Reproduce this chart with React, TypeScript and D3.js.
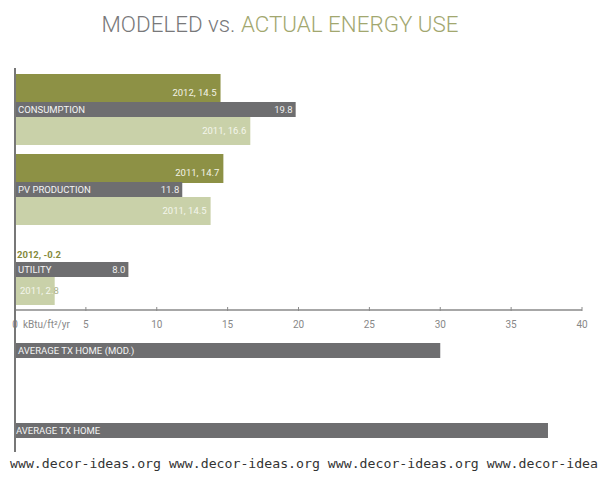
import React, { useEffect } from "react";
import * as d3 from "d3";

const categories = ["CONSUMPTION", "PV PRODUCTION", "UTILITY"];
const darkValues = [14.5, 14.7, -0.2];
const darkLabels = ["2012, 14.5", "2011, 14.7", "2012, -0.2"];
const grayValues = [19.8, 11.8, 8.0];
const grayLabels = ["19.8", "11.8", "8.0"];
const lightValues = [16.6, 13.8, 2.8];
const lightLabels = ["2011, 16.6", "2011, 14.5", "2011, 2.8"];
const avgLabels = ["AVERAGE TX HOME (MOD.)", "AVERAGE TX HOME"];
const avgValues = [30.0, 37.6];
const tickValues = [0, 5, 10, 15, 20, 25, 30, 35, 40];
const unitLabel = "kBtu/ft²/yr";
const watermark = "www.decor-ideas.org www.decor-ideas.org www.decor-ideas.org www.decor-idea";

const DARK = "#8d9145";
const LIGHT = "#c9d1a9";
const GRAY = "#6e6e70";
const FONT = "Roboto, 'Open Sans', sans-serif";

export default function App() {
  useEffect(() => {
    document.body.style.margin = "0";
  }, []);

  const x = d3.scaleLinear().domain([0, 40]).range([15, 582]);
  const band = d3.scaleBand<string>().domain(categories).range([74, 314]);
  const avgY = d3.scaleBand<string>().domain(avgLabels).range([343, 503]);

  return (
    <svg width={600} height={483} style={{ position: "absolute", left: 0, top: 0, background: "#fff" }}>
      <text x={280} y={32} textAnchor="middle" fontFamily={FONT} fontSize={22} fontWeight={300} textLength={357} lengthAdjust="spacingAndGlyphs">
        <tspan fill="#78787a">MODELED vs. </tspan>
        <tspan fill="#a2a76f">ACTUAL ENERGY USE</tspan>
      </text>

      {categories.map((c, i) => {
        const T = band(c) as number;
        const dv = darkValues[i];
        return (
          <g key={c}>
            {dv > 0 && <rect x={x(0)} y={T} width={x(dv) - x(0)} height={29} fill={DARK} />}
            <rect x={x(0)} y={T + 43} width={x(lightValues[i]) - x(0)} height={28} fill={LIGHT} />
            <rect x={x(0)} y={T + 28} width={x(grayValues[i]) - x(0)} height={15} fill={GRAY} />
            {dv > 0 ? (
              <text x={x(dv) - 4} y={T + 22} textAnchor="end" fontFamily={FONT} fontSize={9.5} fill="#f3f3e6">
                {darkLabels[i]}
              </text>
            ) : (
              <text x={17} y={T + 24} fontFamily={FONT} fontSize={9.5} fontWeight="bold" fill="#858a3c">
                {darkLabels[i]}
              </text>
            )}
            <text x={18} y={T + 39} fontFamily={FONT} fontSize={9.5} fill="#f4f4f4">{c}</text>
            <text x={x(grayValues[i]) - 3} y={T + 39} textAnchor="end" fontFamily={FONT} fontSize={9.5} fill="#eeeeee">
              {grayLabels[i]}
            </text>
            {lightValues[i] > 8 ? (
              <text x={x(lightValues[i]) - 4} y={T + 60} textAnchor="end" fontFamily={FONT} fontSize={9.5} fill="#f4f6ec">
                {lightLabels[i]}
              </text>
            ) : (
              <text x={20} y={T + 60} fontFamily={FONT} fontSize={9.5} fill="#f4f6ec">
                <tspan>{lightLabels[i].slice(0, -1)}</tspan>
                <tspan fill="#a9b08a">{lightLabels[i].slice(-1)}</tspan>
              </text>
            )}
          </g>
        );
      })}

      <line x1={x(0)} x2={x(40)} y1={310} y2={310} stroke="#8a8a8a" strokeWidth={1.5} />
      {tickValues.map((t) => (
        <g key={t}>
          <line x1={x(t)} x2={x(t)} y1={307} y2={311} stroke="#8a8a8a" strokeWidth={1} />
          <text x={x(t)} y={328} textAnchor="middle" fontFamily={FONT} fontSize={10} fill="#888">{t}</text>
        </g>
      ))}
      <text x={23} y={328} fontFamily={FONT} fontSize={10} fill="#888">{unitLabel}</text>

      {avgLabels.map((l, i) => {
        const y = avgY(l) as number;
        return (
          <g key={l}>
            <rect x={x(0)} y={y} width={x(avgValues[i]) - x(0)} height={15} fill={GRAY} />
            <text x={i === 0 ? 18 : 16} y={y + 11} fontFamily={FONT} fontSize={9.5} fill="#f4f4f4">{l}</text>
          </g>
        );
      })}

      <line x1={15} x2={15} y1={68} y2={452} stroke="#777" strokeWidth={2} />

      <text x={10} y={468} fontFamily="'DejaVu Sans Mono', monospace" fontSize={13} fill="#333" textLength={588} lengthAdjust="spacingAndGlyphs">{watermark}</text>
    </svg>
  );
}
